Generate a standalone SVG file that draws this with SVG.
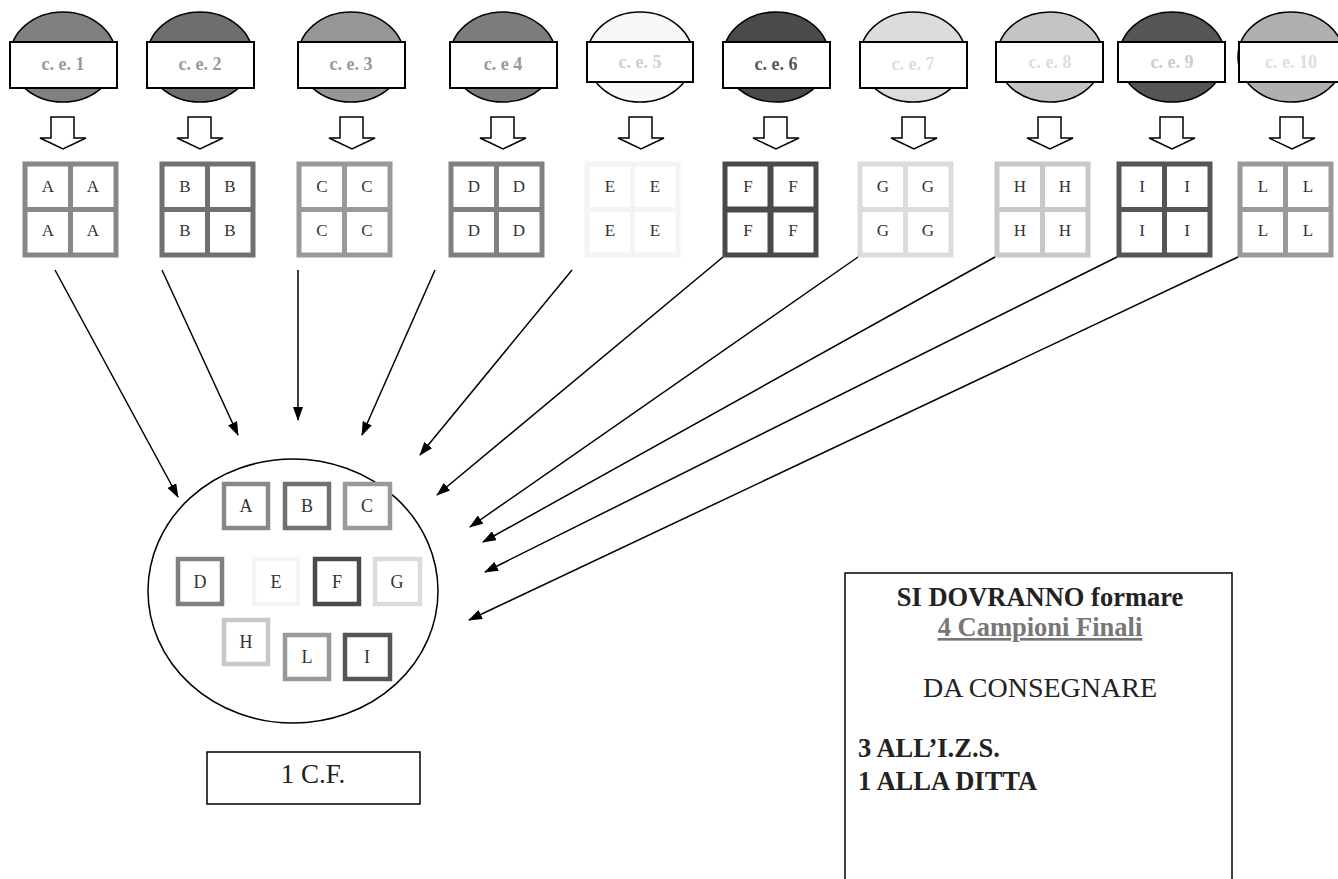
<svg xmlns="http://www.w3.org/2000/svg" width="1338" height="879" viewBox="0 0 1338 879">
<style>
.ce{stroke:#000;stroke-width:1.5}
.lab{fill:#fff;stroke:#000;stroke-width:2}
.cet{font-family:"Liberation Serif",serif;font-weight:bold;font-size:18px;text-anchor:middle}
.blk{fill:#fff;stroke:#000;stroke-width:1.5;stroke-linejoin:miter}
.g{fill:#fff;stroke-width:5}
.gl{font-family:"Liberation Serif",serif;font-size:17px;fill:#333;stroke:none;text-anchor:middle}
.il{font-family:"Liberation Serif",serif;font-size:18px;fill:#333;stroke:none;text-anchor:middle}
.sb{fill:#fff;stroke-width:4.5}
.con{stroke:#000;stroke-width:1.5;fill:none;marker-end:url(#ah)}
.bx{fill:#fff;stroke:#000;stroke-width:1.5}
.rt{font-family:"Liberation Serif",serif;font-size:26.5px}
</style>
<defs>
<marker id="ah" markerWidth="14" markerHeight="10" refX="13" refY="5" orient="auto" markerUnits="userSpaceOnUse">
<path d="M0,0 L14,5 L0,10 z" fill="#000"/>
</marker>
<polygon id="da" points="-12,0 11,0 11,21 23,21 0,32 -23,21 -12,21" class="blk"/>
</defs>
<rect width="1338" height="879" fill="#fff"/>

<g id="ce1"><ellipse class="ce" cx="63" cy="57" rx="53" ry="45" fill="#808080"/><rect class="lab" x="10" y="42" width="107" height="46"/><text class="cet" x="63" y="70" fill="#999">c. e. 1</text></g>
<g id="ce2"><ellipse class="ce" cx="200" cy="57" rx="53" ry="45" fill="#6e6e6e"/><rect class="lab" x="147" y="42" width="107" height="46"/><text class="cet" x="200" y="70" fill="#999">c. e. 2</text></g>
<g id="ce3"><ellipse class="ce" cx="351" cy="57" rx="53" ry="45" fill="#969696"/><rect class="lab" x="298" y="42" width="107" height="46"/><text class="cet" x="351" y="70" fill="#999">c. e. 3</text></g>
<g id="ce4"><ellipse class="ce" cx="503" cy="57" rx="53" ry="45" fill="#7c7c7c"/><rect class="lab" x="450" y="42" width="107" height="46"/><text class="cet" x="503" y="70" fill="#999">c. e 4</text></g>
<g id="ce5"><ellipse class="ce" cx="640" cy="57" rx="53" ry="45" fill="#f8f8f8"/><rect class="lab" x="587" y="42" width="106" height="40"/><text class="cet" x="640" y="68" fill="#d0d0d0">c. e. 5</text></g>
<g id="ce6"><ellipse class="ce" cx="776" cy="57" rx="53" ry="45" fill="#4a4a4a"/><rect class="lab" x="723" y="42" width="107" height="46"/><text class="cet" x="776" y="70" fill="#555">c. e. 6</text></g>
<g id="ce7"><ellipse class="ce" cx="913" cy="57" rx="53" ry="45" fill="#dcdcdc"/><rect class="lab" x="860" y="42" width="107" height="46"/><text class="cet" x="913" y="70" fill="#ddd">c. e. 7</text></g>
<g id="ce8"><ellipse class="ce" cx="1050" cy="57" rx="53" ry="45" fill="#c4c4c4"/><rect class="lab" x="996" y="42" width="107" height="40"/><text class="cet" x="1050" y="68" fill="#ddd">c. e. 8</text></g>
<g id="ce9"><ellipse class="ce" cx="1172" cy="57" rx="53" ry="45" fill="#555"/><rect class="lab" x="1118" y="42" width="107" height="40"/><text class="cet" x="1172" y="68" fill="#ccc">c. e. 9</text></g>
<g id="ce10"><ellipse class="ce" cx="1291" cy="57" rx="53" ry="45" fill="#b0b0b0"/><rect class="lab" x="1239" y="42" width="107" height="40"/><text class="cet" x="1291" y="68" fill="#ddd">c. e. 10</text></g>

<g id="down-arrows">
<use href="#da" x="63" y="117"/>
<use href="#da" x="200" y="117"/>
<use href="#da" x="352" y="117"/>
<use href="#da" x="503" y="117"/>
<use href="#da" x="641" y="117"/>
<use href="#da" x="776" y="117"/>
<use href="#da" x="914" y="117"/>
<use href="#da" x="1050" y="117"/>
<use href="#da" x="1172" y="117"/>
<use href="#da" x="1292" y="117"/>
</g>

<g id="gridA" stroke="#888"><rect class="g" x="25" y="164" width="91" height="91"/><path d="M70.5,164V255M25,209.5H116" stroke-width="5"/><g class="gl"><text x="48" y="192">A</text><text x="93" y="192">A</text><text x="48" y="236">A</text><text x="93" y="236">A</text></g></g>
<g id="gridB" stroke="#707070"><rect class="g" x="162" y="164" width="91" height="91"/><path d="M207.5,164V255M162,209.5H253" stroke-width="5"/><g class="gl"><text x="185" y="192">B</text><text x="230" y="192">B</text><text x="185" y="236">B</text><text x="230" y="236">B</text></g></g>
<g id="gridC" stroke="#999"><rect class="g" x="299" y="164" width="91" height="91"/><path d="M344.5,164V255M299,209.5H390" stroke-width="5"/><g class="gl"><text x="322" y="192">C</text><text x="367" y="192">C</text><text x="322" y="236">C</text><text x="367" y="236">C</text></g></g>
<g id="gridD" stroke="#808080"><rect class="g" x="451" y="164" width="91" height="91"/><path d="M496.5,164V255M451,209.5H542" stroke-width="5"/><g class="gl"><text x="474" y="192">D</text><text x="519" y="192">D</text><text x="474" y="236">D</text><text x="519" y="236">D</text></g></g>
<g id="gridE" stroke="#f4f4f4"><rect class="g" x="587" y="164" width="91" height="91"/><path d="M632.5,164V255M587,209.5H678" stroke-width="5"/><g class="gl"><text x="610" y="192">E</text><text x="655" y="192">E</text><text x="610" y="236">E</text><text x="655" y="236">E</text></g></g>
<g id="gridF" stroke="#4a4a4a"><rect class="g" x="725" y="164" width="91" height="91" stroke-width="6"/><path d="M770.5,164V255M725,209.5H816" stroke-width="6"/><g class="gl"><text x="748" y="192">F</text><text x="793" y="192">F</text><text x="748" y="236">F</text><text x="793" y="236">F</text></g></g>
<g id="gridG" stroke="#dcdcdc"><rect class="g" x="860" y="164" width="91" height="91"/><path d="M905.5,164V255M860,209.5H951" stroke-width="5"/><g class="gl"><text x="883" y="192">G</text><text x="928" y="192">G</text><text x="883" y="236">G</text><text x="928" y="236">G</text></g></g>
<g id="gridH" stroke="#c8c8c8"><rect class="g" x="997" y="164" width="91" height="91"/><path d="M1042.5,164V255M997,209.5H1088" stroke-width="5"/><g class="gl"><text x="1020" y="192">H</text><text x="1065" y="192">H</text><text x="1020" y="236">H</text><text x="1065" y="236">H</text></g></g>
<g id="gridI" stroke="#555"><rect class="g" x="1119" y="164" width="91" height="91"/><path d="M1164.5,164V255M1119,209.5H1210" stroke-width="5"/><g class="gl"><text x="1142" y="192">I</text><text x="1187" y="192">I</text><text x="1142" y="236">I</text><text x="1187" y="236">I</text></g></g>
<g id="gridL" stroke="#999"><rect class="g" x="1240" y="164" width="91" height="91"/><path d="M1285.5,164V255M1240,209.5H1331" stroke-width="5"/><g class="gl"><text x="1263" y="192">L</text><text x="1308" y="192">L</text><text x="1263" y="236">L</text><text x="1308" y="236">L</text></g></g>

<g id="connectors">
<line class="con" x1="55" y1="270" x2="178" y2="497"/>
<line class="con" x1="162" y1="270" x2="238" y2="435"/>
<line class="con" x1="298" y1="270" x2="298" y2="420"/>
<line class="con" x1="435" y1="270" x2="362" y2="435"/>
<line class="con" x1="572" y1="270" x2="420" y2="455"/>
<line class="con" x1="723" y1="257" x2="437" y2="495"/>
<line class="con" x1="858" y1="257" x2="470" y2="527"/>
<line class="con" x1="995" y1="257" x2="483" y2="542"/>
<line class="con" x1="1117" y1="257" x2="485" y2="572"/>
<line class="con" x1="1238" y1="257" x2="469" y2="620"/>
</g>

<g id="final-sample">
<ellipse cx="293" cy="591" rx="145" ry="132" fill="#fff" stroke="#000" stroke-width="1.5"/>
<rect class="sb" x="224" y="484" width="44" height="44" stroke="#888"/><text class="il" x="246" y="512">A</text>
<rect class="sb" x="285" y="484" width="44" height="44" stroke="#707070"/><text class="il" x="307" y="512">B</text>
<rect class="sb" x="345" y="484" width="45" height="44" stroke="#999"/><text class="il" x="367" y="512">C</text>
<rect class="sb" x="178" y="559" width="44" height="45" stroke="#808080"/><text class="il" x="200" y="588">D</text>
<rect class="sb" x="254" y="559" width="44" height="45" stroke="#f4f4f4"/><text class="il" x="276" y="588">E</text>
<rect class="sb" x="315" y="559" width="44" height="45" stroke="#4a4a4a"/><text class="il" x="337" y="588">F</text>
<rect class="sb" x="375" y="559" width="45" height="45" stroke="#dcdcdc"/><text class="il" x="397" y="588">G</text>
<rect class="sb" x="224" y="620" width="44" height="44" stroke="#c8c8c8"/><text class="il" x="246" y="648">H</text>
<rect class="sb" x="285" y="635" width="44" height="44" stroke="#999"/><text class="il" x="307" y="663">L</text>
<rect class="sb" x="345" y="635" width="45" height="44" stroke="#555"/><text class="il" x="367" y="663">I</text>
</g>

<g id="cf-label">
<rect class="bx" x="207" y="752" width="213" height="52"/>
<text x="313" y="783" font-family="Liberation Serif, serif" font-size="27" fill="#222" text-anchor="middle">1 C.F.</text>
</g>

<g id="note">
<rect class="bx" x="845" y="573" width="387" height="320"/>
<text class="rt" x="1040" y="606" text-anchor="middle" font-weight="bold" style="fill:#222">SI DOVRANNO formare</text>
<text class="rt" x="1040" y="636" text-anchor="middle" font-weight="bold" style="fill:#777" text-decoration="underline">4 Campioni Finali</text>
<text class="rt" x="1040" y="697" text-anchor="middle" style="fill:#222;font-size:28px">DA CONSEGNARE</text>
<text class="rt" x="858" y="757" font-weight="bold" style="fill:#222">3 ALL’I.Z.S.</text>
<text class="rt" x="858" y="790" font-weight="bold" style="fill:#222">1 ALLA DITTA</text>
</g>
</svg>
